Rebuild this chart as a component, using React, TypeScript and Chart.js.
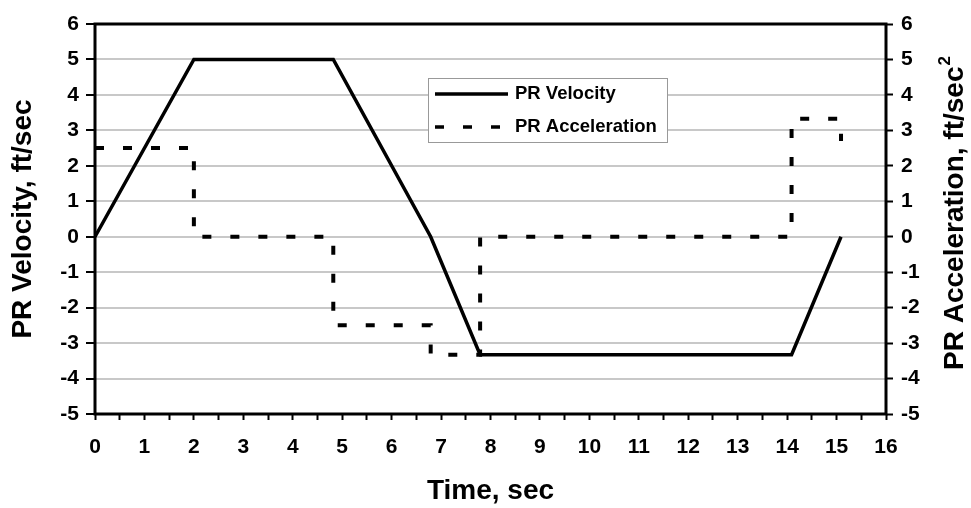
import React, { useEffect, useRef } from "react";
import { Chart, registerables } from "chart.js";

Chart.register(...registerables);

// ---- data ----
const velocityTime = [0, 2, 4.82, 6.79, 7.79, 14.09, 15.09];
const velocityValues = [0, 5, 5, 0, -3.33, -3.33, 0];
const accelTime = [0, 2, 2, 4.82, 4.82, 6.79, 6.79, 7.79, 7.79, 14.09, 14.09, 15.09, 15.09];
const accelValues = [2.5, 2.5, 0, 0, -2.5, -2.5, -3.33, -3.33, 0, 0, 3.33, 3.33, 2.7];
const xTickLabels = ["0", "1", "2", "3", "4", "5", "6", "7", "8", "9", "10", "11", "12", "13", "14", "15", "16"];
const yTickLabels = ["-5", "-4", "-3", "-2", "-1", "0", "1", "2", "3", "4", "5", "6"];
const seriesLabels = ["PR Velocity", "PR Acceleration"];
const xTitle = "Time, sec";
const yTitle = "PR Velocity, ft/sec";
const y1Title = "PR Acceleration, ft/sec";
const y1TitleSup = "2";

const FONT = "'Liberation Sans', Arial, Helvetica, sans-serif";
const DASH = [9, 19];
const TITLE_SIZE = 28;
const TICK_SIZE = 21;

const framePlugin = {
  id: "framePlugin",
  afterDraw(chart: any) {
    const { ctx, chartArea } = chart;
    const { left, right, top, bottom } = chartArea;
    ctx.save();
    // plot frame
    ctx.strokeStyle = "#000";
    ctx.lineWidth = 3;
    ctx.setLineDash([]);
    ctx.strokeRect(left, top, right - left, bottom - top);

    // legend box
    const bx = left + 333;
    const by = top + 54;
    const bw = 239;
    const bh = 64;
    ctx.fillStyle = "#fff";
    ctx.fillRect(bx, by, bw, bh);
    ctx.strokeStyle = "#999";
    ctx.lineWidth = 1;
    ctx.strokeRect(bx + 0.5, by + 0.5, bw, bh);
    const rows = [by + 16, by + 49];
    ctx.font = `bold 18.5px ${FONT}`;
    ctx.fillStyle = "#000";
    ctx.textBaseline = "middle";
    ctx.textAlign = "left";
    chart.data.datasets.forEach((ds: any, i: number) => {
      const yy = rows[i];
      ctx.strokeStyle = "#000";
      ctx.lineWidth = 3.5;
      ctx.setLineDash(ds.borderDash || []);
      ctx.beginPath();
      ctx.moveTo(bx + 7, yy);
      ctx.lineTo(bx + 80, yy);
      ctx.stroke();
      ctx.setLineDash([]);
      ctx.fillText(ds.label, bx + 87, yy);
    });

    // right axis title, rotated reading bottom-to-top
    const cx = 955;
    const cy = (top + bottom) / 2 - 6;
    ctx.translate(cx, cy);
    ctx.rotate(-Math.PI / 2);
    ctx.font = `bold ${TITLE_SIZE}px ${FONT}`;
    const w1 = ctx.measureText(y1Title).width;
    ctx.font = `bold 17px ${FONT}`;
    const w2 = ctx.measureText(y1TitleSup).width;
    const start = -(w1 + w2 + 1) / 2;
    ctx.font = `bold ${TITLE_SIZE}px ${FONT}`;
    ctx.textBaseline = "middle";
    ctx.fillText(y1Title, start, 0);
    ctx.font = `bold 17px ${FONT}`;
    ctx.fillText(y1TitleSup, start + w1 + 1, -10);
    ctx.restore();
  },
};

export default function App() {
  const ref = useRef<HTMLCanvasElement | null>(null);

  useEffect(() => {
    if (!ref.current) return;
    Chart.defaults.font.family = FONT;
    const chart = new Chart(ref.current, {
      type: "line",
      data: {
        datasets: [
          {
            label: seriesLabels[0],
            data: velocityTime.map((t, i) => ({ x: t, y: velocityValues[i] })),
            borderColor: "#000",
            borderWidth: 3.5,
            pointRadius: 0,
            tension: 0,
            yAxisID: "y",
          },
          {
            label: seriesLabels[1],
            data: accelTime.map((t, i) => ({ x: t, y: accelValues[i] })),
            borderColor: "#000",
            borderWidth: 4,
            borderDash: DASH,
            borderCapStyle: "butt",
            pointRadius: 0,
            tension: 0,
            yAxisID: "y1",
          },
        ],
      },
      options: {
        responsive: false,
        animation: false,
        layout: { padding: { top: 24, left: 0, right: 0, bottom: 0 } },
        plugins: { legend: { display: false }, tooltip: { enabled: false } },
        scales: {
          x: {
            type: "linear",
            min: Number(xTickLabels[0]),
            max: Number(xTickLabels[xTickLabels.length - 1]),
            afterFit: (s: any) => { s.height = 94; },
            afterBuildTicks: (s: any) => {
              const ticks: any[] = [];
              const lo = Number(xTickLabels[0]);
              const hi = Number(xTickLabels[xTickLabels.length - 1]);
              for (let v = lo; v <= hi + 1e-9; v += 0.5) ticks.push({ value: v });
              s.ticks = ticks;
            },
            ticks: {
              autoSkip: false,
              maxRotation: 0,
              padding: 15,
              color: "#000",
              font: { size: TICK_SIZE, weight: "bold" },
              callback: (v: any) => {
                const idx = xTickLabels.indexOf(String(v));
                return idx >= 0 ? xTickLabels[idx] : "";
              },
            },
            grid: { drawOnChartArea: false, drawTicks: true, tickLength: 6, tickColor: "#000", tickWidth: 2 },
            border: { display: false },
            title: {
              display: true,
              text: xTitle,
              color: "#000",
              font: { size: TITLE_SIZE, weight: "bold" },
              padding: { top: 0, bottom: 0 },
            },
          },
          y: {
            type: "linear",
            position: "left",
            min: Number(yTickLabels[0]),
            max: Number(yTickLabels[yTickLabels.length - 1]),
            afterFit: (s: any) => { s.width = 95; },
            ticks: {
              stepSize: 1,
              padding: 7,
              color: "#000",
              font: { size: TICK_SIZE, weight: "bold" },
              callback: (v: any) => yTickLabels[yTickLabels.indexOf(String(v))] ?? "",
            },
            grid: { color: "#c8c8c8", lineWidth: 2, tickLength: 9, tickColor: "#000", tickWidth: 2 },
            border: { display: false },
            title: {
              display: true,
              text: yTitle,
              color: "#000",
              font: { size: TITLE_SIZE, weight: "bold" },
              padding: { top: 6, bottom: 0 },
            },
          },
          y1: {
            type: "linear",
            position: "right",
            min: Number(yTickLabels[0]),
            max: Number(yTickLabels[yTickLabels.length - 1]),
            afterFit: (s: any) => { s.width = 85; },
            ticks: {
              stepSize: 1,
              padding: 8,
              color: "#000",
              font: { size: TICK_SIZE, weight: "bold" },
              callback: (v: any) => yTickLabels[yTickLabels.indexOf(String(v))] ?? "",
            },
            grid: { drawOnChartArea: false, tickLength: 7, tickColor: "#000", tickWidth: 2 },
            border: { display: false },
          },
        },
      } as any,
      plugins: [framePlugin],
    });
    return () => chart.destroy();
  }, []);

  return (
    <div style={{ position: "fixed", left: 0, top: 0, width: 971, height: 508, background: "#fff" }}>
      <canvas ref={ref} width={971} height={508} />
    </div>
  );
}
